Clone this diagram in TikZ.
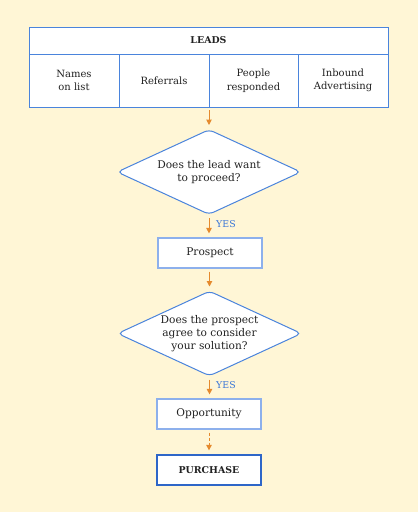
\documentclass[tikz,border=0pt]{standalone}
\usepackage{fontspec}
\setmainfont{DejaVu Serif}
\usetikzlibrary{shapes.geometric,arrows.meta}
\definecolor{bg}{HTML}{FFF6D6}
\definecolor{bblue}{HTML}{4A84DC}
\definecolor{lblue}{HTML}{8DB0EC}
\definecolor{dblue}{HTML}{2E66C8}
\definecolor{orng}{HTML}{E58A2E}
\definecolor{yesblue}{HTML}{3C78D8}
\definecolor{txt}{HTML}{222222}
\tikzset{
  cell/.style={draw=bblue, line width=1pt, fill=white, inner sep=0pt, align=center, text=txt, font=\fontsize{10}{13.5}\selectfont},
  dec/.style={draw=bblue, line width=1pt, fill=white, diamond, shape aspect=2.2, minimum width=184pt, minimum height=85pt, inner sep=0pt, rounded corners=5pt, align=center, text=txt, font=\fontsize{10.6}{13.2}\selectfont},
  pbox/.style={draw=lblue, line width=1.2pt, fill=white, minimum width=104pt, minimum height=30pt, inner sep=0pt, text=txt, font=\fontsize{10.6}{12}\selectfont},
  fbox/.style={draw=dblue, line width=1.3pt, fill=white, minimum width=104pt, minimum height=30pt, inner sep=0pt, text=txt, font=\bfseries\fontsize{9.4}{12}\selectfont},
  flow/.style={draw=orng, line width=1pt, -{Triangle[width=5.5pt,length=5.5pt]}, shorten >=4pt, shorten <=3pt},
  yes/.style={text=yesblue, font=\fontsize{9.4}{10}\selectfont, anchor=west, inner sep=0pt}
}
\begin{document}
\begin{tikzpicture}[x=1pt,y=-1pt]
\fill[bg] (0,0) rectangle (418,512);
\useasboundingbox (0,0) rectangle (418,512);
% table
\node[cell, minimum width=359pt, minimum height=27pt, font=\bfseries\fontsize{9.4}{10}\selectfont] (leads) at (208.5,40.5) {LEADS};
\node[cell, minimum width=90pt, minimum height=53pt] (c1) at (74,80.5) {Names\\on list};
\node[cell, minimum width=90pt, minimum height=53pt] (c2) at (164,80.5) {Referrals};
\node[cell, minimum width=89pt, minimum height=53pt] (c3) at (253.5,80.5) {People\\responded};
\node[cell, minimum width=90pt, minimum height=53pt] (c4) at (343,80.5) {Inbound\\Advertising};
\coordinate (tb) at (209,107);
% flow
\node[dec] (d1) at (209,172) {Does the lead want\\to proceed?};
\node[pbox] (p) at (210,253) {Prospect};
\node[dec] (d2) at (209.5,333.5) {Does the prospect\\agree to consider\\your solution?};
\node[pbox] (o) at (209,414) {Opportunity};
\node[fbox] (f) at (209,470) {PURCHASE};
% connectors
\draw[flow] (tb) -- (d1.north);
\draw[flow] (d1.south) -- (d1.south |- p.north);
\draw[flow] (p.south -| d2.north) -- (d2.north);
\draw[flow] (d2.south) -- (d2.south |- o.north);
\draw[flow, dashed, dash pattern=on 3pt off 2pt] (o.south) -- (f.north);
\node[yes] (y1) at (216,224) {YES};
\node[yes] (y2) at (216,385) {YES};
\end{tikzpicture}
\end{document}
